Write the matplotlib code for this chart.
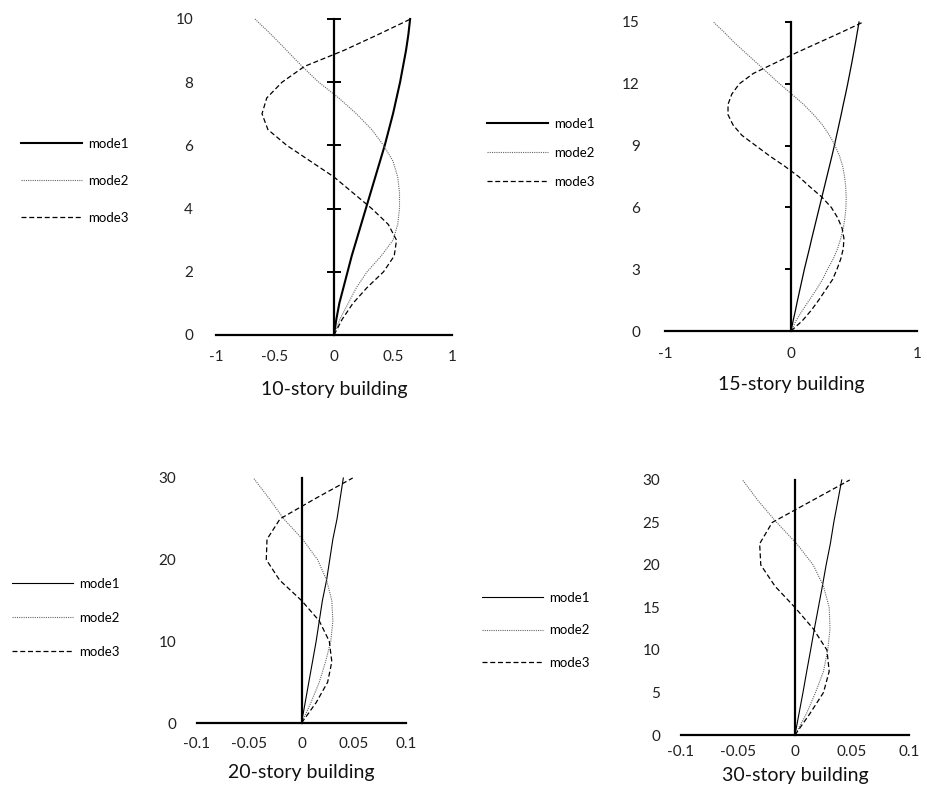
import matplotlib.pyplot as plt
from matplotlib.lines import Line2D
from matplotlib.ticker import FormatStrFormatter

plt.rcParams['font.family'] = ['Lato', 'DejaVu Sans']
plt.rcParams['axes.unicode_minus'] = False

labels = ["mode1", "mode2", "mode3"]
titles = ["10-story building", "15-story building", "20-story building", "30-story building"]

# 10-story building
h10 = [0, 0.5, 1, 1.5, 2, 2.5, 3, 3.5, 4, 4.5, 5, 5.5, 6, 6.5, 7, 7.5, 8, 8.5, 9, 9.5, 10]
m1_10 = [0, 0.02, 0.045, 0.08, 0.115, 0.15, 0.19, 0.23, 0.27, 0.31, 0.35, 0.39, 0.43,
         0.465, 0.50, 0.53, 0.56, 0.585, 0.61, 0.63, 0.645]
m2_10 = [0, 0.05, 0.12, 0.19, 0.28, 0.40, 0.50, 0.54, 0.555, 0.555, 0.54, 0.50, 0.42,
         0.32, 0.19, 0.04, -0.13, -0.27, -0.40, -0.53, -0.67]
m3_10 = [0, 0.07, 0.16, 0.28, 0.42, 0.51, 0.53, 0.46, 0.32, 0.16, 0.0, -0.20, -0.40,
         -0.56, -0.61, -0.57, -0.44, -0.25, 0.08, 0.37, 0.65]

# 15-story building
h15 = [0, 0.5, 1, 1.5, 2, 2.5, 3, 3.5, 4, 4.5, 5, 5.5, 6, 6.5, 7, 7.5, 8, 8.5, 9, 9.5,
       10, 10.5, 11, 11.5, 12, 12.5, 13, 13.5, 14, 14.5, 15]
m1_15 = [0, 0.017, 0.035, 0.052, 0.07, 0.088, 0.106, 0.126, 0.146, 0.165, 0.185, 0.205,
         0.225, 0.245, 0.265, 0.285, 0.305, 0.325, 0.344, 0.362, 0.38, 0.398, 0.415,
         0.433, 0.45, 0.466, 0.482, 0.497, 0.512, 0.526, 0.54]
m2_15 = [0, 0.04, 0.09, 0.145, 0.2, 0.25, 0.29, 0.335, 0.37, 0.395, 0.415, 0.428, 0.436,
         0.438, 0.434, 0.425, 0.41, 0.385, 0.35, 0.305, 0.25, 0.18, 0.10, 0.005, -0.09,
         -0.18, -0.27, -0.36, -0.45, -0.53, -0.616]
m3_15 = [0, 0.09, 0.16, 0.22, 0.275, 0.33, 0.365, 0.395, 0.415, 0.42, 0.405, 0.37, 0.32,
         0.245, 0.15, 0.06, -0.05, -0.17, -0.28, -0.39, -0.46, -0.50, -0.50, -0.47, -0.41,
         -0.30, -0.13, 0.04, 0.22, 0.40, 0.574]

# 20-story building
h20 = [0, 2.5, 5, 7.5, 10, 12.5, 15, 17.5, 20, 22.5, 25, 27.5, 30]
m1_20 = [0, 0.0035, 0.007, 0.0105, 0.014, 0.017, 0.020, 0.024, 0.027, 0.030, 0.034, 0.037, 0.040]
m2_20 = [0, 0.009, 0.017, 0.023, 0.028, 0.030, 0.029, 0.024, 0.0154, 0.001, -0.017, -0.031, -0.046]
m3_20 = [0, 0.014, 0.025, 0.029, 0.0266, 0.017, 0.0, -0.021, -0.0337, -0.033, -0.0205, 0.0135, 0.049]

# 30-story building
h30 = [0, 2.5, 5, 7.5, 10, 12.5, 15, 17.5, 20, 22.5, 25, 27.5, 30]
m1_30 = [0, 0.0035, 0.007, 0.0103, 0.0137, 0.017, 0.0205, 0.024, 0.0273, 0.031, 0.034, 0.0375, 0.041]
m2_30 = [0, 0.010, 0.018, 0.025, 0.0287, 0.0307, 0.030, 0.025, 0.016, 0.0015, -0.016, -0.032, -0.046]
m3_30 = [0, 0.013, 0.025, 0.030, 0.028, 0.016, 0.0, -0.0175, -0.030, -0.031, -0.020, 0.014, 0.048]

panels = [
    dict(h=h10, m=[m1_10, m2_10, m3_10], pos=[0.2330, 0.5781, 0.2546, 0.3980],
         xlim=1, xticks=[-1, -0.5, 0, 0.5, 1], yticks=[0, 2, 4, 6, 8, 10],
         solid_lw=1.5, leg_lw=1.5, tickdir="inout", ticklen=10, pad=11.5, endticks=True,
         xpad=10.5, lpad=12.5, leg=(21, 138, 37)),
    dict(h=h15, m=[m1_15, m2_15, m3_15], pos=[0.7174, 0.5831, 0.2718, 0.3892],
         xlim=1, xticks=[-1, 0, 1], yticks=[0, 3, 6, 9, 12, 15],
         solid_lw=0.9, leg_lw=1.5, tickdir="in", ticklen=4.5, pad=18, endticks=True,
         xpad=11.5, lpad=10.5, leg=(487, 118, 29.2)),
    dict(h=h20, m=[m1_20, m2_20, m3_20], pos=[0.2125, 0.0894, 0.2255, 0.3086],
         xlim=0.1, xticks=[-0.1, -0.05, 0, 0.05, 0.1], yticks=[0, 10, 20, 30],
         solid_lw=0.8, leg_lw=0.8, tickdir="in", ticklen=0, pad=15, endticks=False,
         xpad=10, lpad=9.5, leg=(12, 578, 34)),
    dict(h=h30, m=[m1_30, m2_30, m3_30], pos=[0.7346, 0.0743, 0.2460, 0.3212],
         xlim=0.1, xticks=[-0.1, -0.05, 0, 0.05, 0.1], yticks=[0, 5, 10, 15, 20, 25, 30],
         solid_lw=0.8, leg_lw=0.8, tickdir="in", ticklen=0, pad=15, endticks=False,
         xpad=7.2, lpad=5.5, leg=(482, 592, 32.5)),
]

W, H = 927, 794
fig = plt.figure(figsize=(W / 100, H / 100), dpi=100)

dot_style = dict(color="#666666", lw=0.8, ls=(0, (1, 1)))
dash_style = dict(color="black", lw=0.9, ls=(0, (4, 2.2)))
leg_fs = 9.5

for p, title in zip(panels, titles):
    ax = fig.add_axes(p["pos"])
    ax.plot(p["m"][0], p["h"], color="black", lw=p["solid_lw"], clip_on=False)
    ax.plot(p["m"][1], p["h"], clip_on=False, **dot_style)
    ax.plot(p["m"][2], p["h"], clip_on=False, **dash_style)

    ax.set_xlim(-p["xlim"], p["xlim"])
    ax.set_ylim(0, p["h"][-1])
    ax.set_xticks(p["xticks"])
    ax.set_yticks(p["yticks"])
    ax.xaxis.set_major_formatter(FormatStrFormatter("%g"))

    for s in ["top", "left"]:
        ax.spines[s].set_visible(False)
    ax.spines["bottom"].set_linewidth(1.6)
    ax.spines["right"].set_position(("data", 0))
    ax.spines["right"].set_linewidth(1.6)

    ax.tick_params(axis="y", left=False, labelleft=True, right=True, labelright=False,
                   direction=p["tickdir"], length=p["ticklen"], width=1.4,
                   pad=p["pad"], labelsize=11, labelcolor="#222222")
    ax.tick_params(axis="x", length=0, pad=p["xpad"], labelsize=11, labelcolor="#222222")
    if p["endticks"]:
        ax.set_xticks([-p["xlim"], p["xlim"]], minor=True)
        ax.tick_params(axis="x", which="minor", length=3, width=1.4, direction="out")

    ax.set_xlabel(title, fontsize=14, labelpad=p["lpad"], color="#111111")

    # legend handles (the 15-story legend shows a thicker mode1 line than the plot)
    handles = [Line2D([], [], color="black", lw=p["leg_lw"]),
               Line2D([], [], **dot_style),
               Line2D([], [], **dash_style)]
    lx, ly, gap = p["leg"]
    fs_px = leg_fs * 100 / 72
    fig.legend(handles, labels, loc="upper left",
               bbox_to_anchor=(lx / W, 1 - ly / H), frameon=False,
               borderpad=0, borderaxespad=0, handlelength=61 / fs_px, handletextpad=0.45,
               labelspacing=(gap - fs_px + 1.0) / fs_px, fontsize=leg_fs)

plt.savefig("out.png")
